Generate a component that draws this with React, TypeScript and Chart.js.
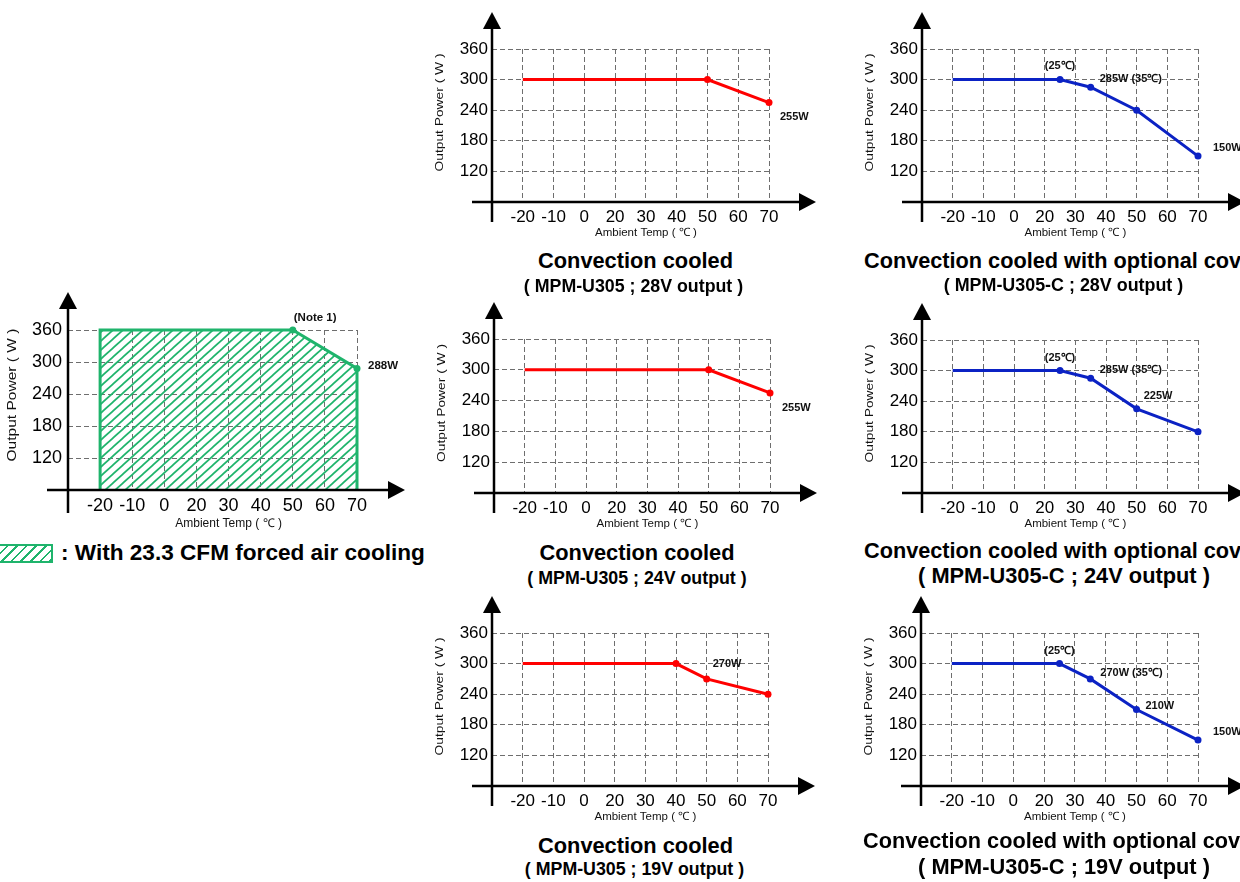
import React, { useEffect, useRef } from 'react';
import { Chart, registerables } from 'chart.js';

Chart.register(...registerables);

const FONT = "'Liberation Sans', Arial, Helvetica, sans-serif";

// ---------- axis ticks ----------
const TEMP_TICKS = [-20, -10, 0, 20, 30, 40, 50, 60, 70];
const POWER_TICKS = [120, 180, 240, 300, 360];
const POWER_MIN = 60;
const POWER_MAX = 360;
const X_TITLE = 'Ambient Temp ( ℃ )';
const Y_TITLE = 'Output Power ( W )';

// ---------- series ----------
const forcedTemps = [-20, -20, 50, 70, 70];
const forcedPower = [60, 360, 360, 288, 60];
const forcedMarks = [false, false, true, true, false];

const u28Temps = [-20, 50, 70];
const u28Power = [300, 300, 255];
const u28Marks = [false, true, true];

const u24Temps = [-20, 50, 70];
const u24Power = [300, 300, 255];
const u24Marks = [false, true, true];

const u19Temps = [-20, 40, 50, 70];
const u19Power = [300, 300, 270, 240];
const u19Marks = [false, true, true, true];

const c28Temps = [-20, 25, 35, 50, 70];
const c28Power = [300, 300, 285, 240, 150];
const c28Marks = [false, true, true, true, true];

const c24Temps = [-20, 25, 35, 50, 70];
const c24Power = [300, 300, 285, 225, 180];
const c24Marks = [false, true, true, true, true];

const c19Temps = [-20, 25, 35, 50, 70];
const c19Power = [300, 300, 270, 210, 150];
const c19Marks = [false, true, true, true, true];

// ---------- point notes ----------
const forcedNotes = [
  { text: '(Note 1)', t: 50, p: 360, dx: 1, dy: -12, align: 'left' },
  { text: '288W', t: 70, p: 288, dx: 11, dy: -3, align: 'left' },
];
const u28Notes = [{ text: '255W', t: 70, p: 255, dx: 11, dy: 14, align: 'left' }];
const u24Notes = [{ text: '255W', t: 70, p: 255, dx: 12, dy: 15, align: 'left' }];
const u19Notes = [{ text: '270W', t: 50, p: 270, dx: 6, dy: -15, align: 'left' }];
const c28Notes = [
  { text: '(25℃)', t: 25, p: 300, dx: 0, dy: -14, align: 'center' },
  { text: '285W (35℃)', t: 35, p: 285, dx: 9, dy: -8, align: 'left' },
  { text: '150W', t: 70, p: 150, dx: 15, dy: -8, align: 'left' },
];
const c24Notes = [
  { text: '(25℃)', t: 25, p: 300, dx: 0, dy: -13, align: 'center' },
  { text: '285W (35℃)', t: 35, p: 285, dx: 9, dy: -8, align: 'left' },
  { text: '225W', t: 50, p: 225, dx: 7, dy: -13, align: 'left' },
];
const c19Notes = [
  { text: '(25℃)', t: 25, p: 300, dx: 0, dy: -13, align: 'center' },
  { text: '270W (35℃)', t: 35, p: 270, dx: 10, dy: -6, align: 'left' },
  { text: '210W', t: 50, p: 210, dx: 9, dy: -4, align: 'left' },
  { text: '150W', t: 70, p: 150, dx: 15, dy: -8, align: 'left' },
];

// ---------- captions ----------
const MAIN_CONV = 'Convection cooled';
const MAIN_COVER = 'Convection cooled with optional cover';
const SUB_U = ['( MPM-U305 ; 28V output )', '( MPM-U305 ; 24V output )', '( MPM-U305 ; 19V output )'];
const SUB_C = ['( MPM-U305-C ; 28V output )', '( MPM-U305-C ; 24V output )', '( MPM-U305-C ; 19V output )'];
const LEGEND_TEXT = ': With 23.3 CFM forced air cooling';

const RED = '#ff0000';
const BLUE = '#0b22c4';
const GREEN = '#1fb46c';
const GRID = '#6e6e6e';

// temperature -> position on the (non-uniform) category-like axis
function tempPos(t: number): number {
  for (let i = 0; i < TEMP_TICKS.length - 1; i++) {
    if (t <= TEMP_TICKS[i + 1]) {
      return i + (t - TEMP_TICKS[i]) / (TEMP_TICKS[i + 1] - TEMP_TICKS[i]);
    }
  }
  return TEMP_TICKS.length - 1;
}

function makeHatch(ctx: CanvasRenderingContext2D, color: string) {
  const c = document.createElement('canvas');
  const w = 10, h = 9;
  c.width = w; c.height = h;
  const g = c.getContext('2d')!;
  g.strokeStyle = color;
  g.lineWidth = 1.7;
  for (const k of [-1, 0, 1]) {
    g.beginPath();
    g.moveTo(-1, h + k * h + h / w);
    g.lineTo(w + 1, k * h - h / w);
    g.stroke();
  }
  return ctx.createPattern(c, 'repeat');
}

const PAD_L = 65, PAD_T = 45, PAD_R = 75, PAD_B = 45;

function Derating({ spec }: { spec: any }) {
  const ref = useRef<HTMLCanvasElement>(null);
  const W = spec.R - spec.L + PAD_L + PAD_R;
  const H = spec.B - spec.T + PAD_T + PAD_B;
  useEffect(() => {
    const canvas = ref.current!;
    const ctx0 = canvas.getContext('2d')!;
    const data = spec.temps.map((t: number, i: number) => ({ x: tempPos(t), y: spec.powers[i] }));
    const radii = spec.marks.map((m: boolean) => (m ? spec.markR : 0));
    const deco = {
      id: 'deco',
      afterDatasetsDraw(chart: any) {
        const { ctx, chartArea: a, scales } = chart;
        const xs = scales.x, ys = scales.y;
        ctx.save();
        ctx.strokeStyle = '#000';
        ctx.fillStyle = '#000';
        ctx.lineWidth = 2.5;
        // y axis with arrow
        const tipY = a.top - spec.arrowTop;
        ctx.beginPath();
        ctx.moveTo(a.left, a.bottom + spec.yTail);
        ctx.lineTo(a.left, tipY + 10);
        ctx.stroke();
        ctx.beginPath();
        ctx.moveTo(a.left, tipY);
        ctx.lineTo(a.left - 9, tipY + 17);
        ctx.lineTo(a.left + 9, tipY + 17);
        ctx.closePath();
        ctx.fill();
        // x axis with arrow
        const tipX = a.right + spec.arrowRight;
        ctx.beginPath();
        ctx.moveTo(a.left - spec.xTail, a.bottom);
        ctx.lineTo(tipX - 10, a.bottom);
        ctx.stroke();
        ctx.beginPath();
        ctx.moveTo(tipX, a.bottom);
        ctx.lineTo(tipX - 17, a.bottom - 9);
        ctx.lineTo(tipX - 17, a.bottom + 9);
        ctx.closePath();
        ctx.fill();
        // axis titles
        ctx.fillStyle = '#111';
        ctx.textAlign = 'center';
        ctx.textBaseline = 'middle';
        ctx.font = `${spec.xTitleSize}px ${FONT}`;
        const cx = (xs.getPixelForValue(0) + xs.getPixelForValue(TEMP_TICKS.length - 1)) / 2;
        ctx.fillText(X_TITLE, cx, a.bottom + spec.xTitleDy);
        ctx.save();
        ctx.translate(a.left + spec.yTitleDx, (a.top + a.bottom) / 2 + spec.yTitleDy);
        ctx.rotate(-Math.PI / 2);
        ctx.font = `${spec.yTitleSize}px ${FONT}`;
        const tw = ctx.measureText(Y_TITLE).width;
        ctx.scale(spec.yTitleLen / tw, 1);
        ctx.fillText(Y_TITLE, 0, 0);
        ctx.restore();
        // notes
        ctx.fillStyle = '#111';
        ctx.font = `bold ${spec.noteSize}px ${FONT}`;
        for (const n of spec.notes) {
          ctx.textAlign = n.align;
          ctx.fillText(n.text, xs.getPixelForValue(tempPos(n.t)) + n.dx, ys.getPixelForValue(n.p) + n.dy);
        }
        ctx.restore();
      },
    };
    const chart = new Chart(canvas, {
      type: 'line',
      data: {
        datasets: [
          {
            data,
            borderColor: spec.color,
            borderWidth: 3,
            tension: 0,
            pointRadius: radii,
            pointHoverRadius: radii,
            pointBackgroundColor: spec.color,
            pointBorderWidth: 0,
            fill: spec.fill ? 'start' : false,
            backgroundColor: spec.fill ? makeHatch(ctx0, spec.color) : spec.color,
            clip: false as any,
          },
        ],
      },
      options: {
        responsive: false,
        animation: false,
        events: [],
        layout: { padding: { left: 0, top: PAD_T, right: PAD_R, bottom: 0 } },
        plugins: { legend: { display: false }, tooltip: { enabled: false } },
        scales: {
          x: {
            type: 'linear',
            min: -1,
            max: TEMP_TICKS.length - 1,
            afterFit: (s: any) => { s.height = PAD_B; },
            grid: { color: GRID, lineWidth: 1, drawTicks: false },
            border: { display: false, dash: [5, 3] },
            ticks: {
              stepSize: 1,
              autoSkip: false,
              maxRotation: 0,
              minRotation: 0,
              padding: 5,
              color: '#000',
              font: { family: FONT, size: spec.tickSize },
              callback: (v: any) => (Number.isInteger(v) && v >= 0 ? String(TEMP_TICKS[v]) : ''),
            },
          },
          y: {
            type: 'linear',
            min: POWER_MIN,
            max: POWER_MAX,
            afterFit: (s: any) => { s.width = PAD_L; },
            grid: { color: GRID, lineWidth: 1, drawTicks: false },
            border: { display: false, dash: [5, 3] },
            ticks: {
              stepSize: 60,
              padding: spec.yPad,
              color: '#000',
              font: { family: FONT, size: spec.tickSize },
              callback: (v: any) => (POWER_TICKS.includes(v) ? String(v) : ''),
            },
          },
        },
      },
      plugins: [deco],
    } as any);
    return () => chart.destroy();
  }, []);
  return (
    <canvas
      ref={ref}
      width={W}
      height={H}
      style={{ position: 'absolute', left: spec.L - PAD_L, top: spec.T - PAD_T, width: W, height: H }}
    />
  );
}

const small = {
  markR: 3.5, tickSize: 17, yPad: 4, arrowTop: 37, arrowRight: 47, yTail: 20, xTail: 20,
  xTitleSize: 11.5, xTitleDy: 31, yTitleSize: 11, yTitleDx: -52, yTitleDy: -13, yTitleLen: 118, noteSize: 11,
};

const SPECS = [
  {
    ...small, L: 68, R: 357, T: 330, B: 490, temps: forcedTemps, powers: forcedPower, marks: forcedMarks,
    notes: forcedNotes, color: GREEN, fill: true, tickSize: 18, yPad: 6, arrowTop: 38, arrowRight: 48, yTail: 23,
    xTail: 21, xTitleSize: 12, xTitleDy: 34, yTitleSize: 12, yTitleDx: -55, yTitleDy: -15, yTitleLen: 133, noteSize: 11.5,
  },
  { ...small, L: 492, R: 769, T: 49, B: 202, temps: u28Temps, powers: u28Power, marks: u28Marks, notes: u28Notes, color: RED },
  { ...small, L: 494, R: 770, T: 339, B: 493, temps: u24Temps, powers: u24Power, marks: u24Marks, notes: u24Notes, color: RED },
  { ...small, L: 492, R: 768, T: 633, B: 786, temps: u19Temps, powers: u19Power, marks: u19Marks, notes: u19Notes, color: RED },
  { ...small, L: 922, R: 1198, T: 49, B: 202, temps: c28Temps, powers: c28Power, marks: c28Marks, notes: c28Notes, color: BLUE },
  { ...small, L: 922, R: 1198, T: 340, B: 493, temps: c24Temps, powers: c24Power, marks: c24Marks, notes: c24Notes, color: BLUE },
  { ...small, L: 921, R: 1198, T: 633, B: 786, temps: c19Temps, powers: c19Power, marks: c19Marks, notes: c19Notes, color: BLUE },
];

function Txt({ text, x, y, size, center }: { text: string; x: number; y: number; size: number; center?: boolean }) {
  return (
    <div
      style={{
        position: 'absolute',
        left: x,
        top: y - size * 0.49,
        fontSize: size,
        lineHeight: `${size}px`,
        fontWeight: 'bold',
        fontFamily: FONT,
        whiteSpace: 'nowrap',
        color: '#000',
        transform: center ? 'translateX(-50%)' : undefined,
      }}
    >
      {text}
    </div>
  );
}

export default function App() {
  return (
    <div style={{ position: 'fixed', left: 0, top: 0, width: 1240, height: 882, overflow: 'hidden', background: '#fff' }}>
      {SPECS.map((s, i) => (
        <Derating key={i} spec={s} />
      ))}
      {/* middle column captions */}
      <Txt text={MAIN_CONV} x={635.5} y={260.5} size={21.8} center />
      <Txt text={SUB_U[0]} x={633.5} y={286.5} size={17.8} center />
      <Txt text={MAIN_CONV} x={637} y={553} size={21.8} center />
      <Txt text={SUB_U[1]} x={637} y={578.5} size={17.8} center />
      <Txt text={MAIN_CONV} x={635.5} y={845.5} size={21.8} center />
      <Txt text={SUB_U[2]} x={634.5} y={870} size={17.8} center />
      {/* right column captions */}
      <Txt text={MAIN_COVER} x={864} y={260.5} size={21.7} />
      <Txt text={SUB_C[0]} x={1063.5} y={286} size={17.9} center />
      <Txt text={MAIN_COVER} x={864} y={550.5} size={21.7} />
      <Txt text={SUB_C[1]} x={1064} y={576} size={21.8} center />
      <Txt text={MAIN_COVER} x={863} y={841} size={21.7} />
      <Txt text={SUB_C[2]} x={1064} y={867} size={21.8} center />
      {/* legend */}
      <div
        style={{
          position: 'absolute',
          left: -3,
          top: 544,
          width: 52,
          height: 15,
          border: `2px solid ${GREEN}`,
          background: `repeating-linear-gradient(135deg, #fff 0px, #fff 5px, ${GREEN} 5px, ${GREEN} 6.8px)`,
        }}
      />
      <Txt text={LEGEND_TEXT} x={61} y={553} size={22.6} />
    </div>
  );
}
